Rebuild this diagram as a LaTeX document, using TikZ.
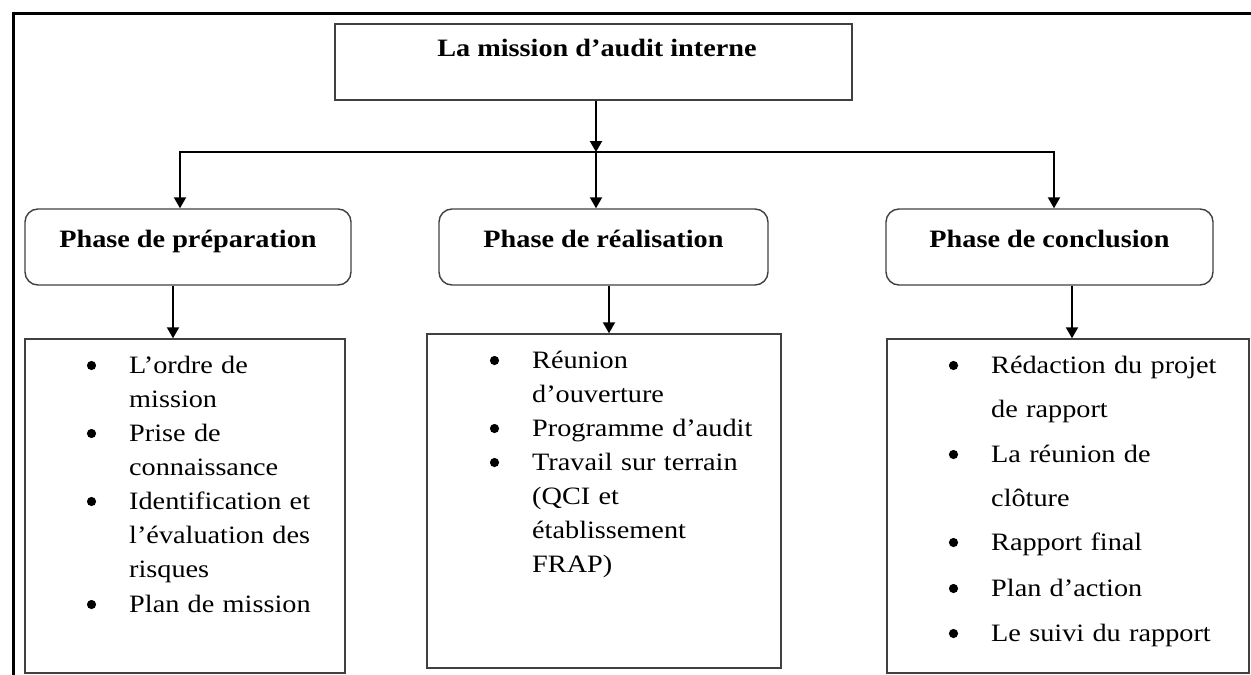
\documentclass[tikz,border=0pt]{standalone}
\usepackage{fontspec}
\setmainfont{Liberation Serif}[FakeStretch=1.13]
\usetikzlibrary{arrows.meta}

\definecolor{boxline}{gray}{0.25}

\tikzset{
  arr/.style={line width=2pt, -{Triangle[width=12pt,length=11pt]}},
  plainbox/.style={draw=boxline, line width=1.4pt, rectangle, inner sep=0pt},
  titlebox/.style={plainbox, font=\fontsize{25}{30}\selectfont\bfseries},
  phasebox/.style={titlebox, rounded corners=13pt, minimum width=326pt,
    text height=38pt, text depth=38pt},
  listbox/.style={plainbox, minimum height=334pt},
  item/.style={anchor=base west, inner sep=0pt, text width=240pt, align=left,
    font=\fontsize{25}{34}\selectfont},
  itemwide/.style={item, font=\fontsize{25}{44.7}\selectfont},
}

\begin{document}
\begin{tikzpicture}[x=1pt,y=-1pt]
\useasboundingbox (0,0) rectangle (1251,675);

% frame along the top and the left
\draw[line width=3pt] (13.5,675) -- (13.5,13.5) -- (1251,13.5);

% main box (title set near its top edge)
\node[titlebox, minimum width=517pt, text height=32pt, text depth=44pt]
  (top) at (593.5,62) {\hspace{7pt}La mission d’audit interne};

% the three phases
\node[phasebox] (p1) at (188,247) {Phase de préparation};
\node[phasebox, minimum width=329pt] (p2) at (603.5,247) {Phase de réalisation};
\node[phasebox, minimum width=327pt] (p3) at (1049.5,247) {Phase de conclusion};

% contents of each phase
\node[listbox, minimum width=320pt] (c1) at (185,506) {};
\node[listbox, minimum width=354pt] (c2) at (604,501) {};
\node[listbox, minimum width=362pt] (c3) at (1068,506) {};

\node[item] (c1a) at (129,373) {L’ordre de\\mission};
\node[item] (c1b) at (129,441) {Prise de\\connaissance};
\node[item] (c1c) at (129,509) {Identification et\\l’évaluation des\\risques};
\node[item] (c1d) at (129,612) {Plan de mission};

\node[item] (c2a) at (532,368) {Réunion\\d’ouverture};
\node[item] (c2b) at (532,436) {Programme d’audit};
\node[item] (c2c) at (532,470) {Travail sur terrain\\(QCI et\\établissement\\FRAP)};

\node[itemwide] (c3a) at (991,373) {Rédaction du projet\\de rapport};
\node[itemwide] (c3b) at (991,462) {La réunion de\\clôture};
\node[itemwide] (c3c) at (991,550) {Rapport final};
\node[itemwide] (c3d) at (991,596) {Plan d’action};
\node[itemwide] (c3e) at (991,641) {Le suivi du rapport};

% list bullets, left of the first line of each item
\foreach \n in {c1a,c1b,c1c,c1d,c2a,c2b,c2c,c3a,c3b,c3c,c3d,c3e}
  \fill ([shift={(-37.5pt,7.5pt)}]\n.base west) circle (4.6pt);

% connectors
\coordinate (hub) at (596,152);
\draw[arr] ([xshift=2.5pt]top.south) -- (hub);
\draw[arr] (hub) -| ([xshift=-8pt]p1.north);
\draw[arr] (hub) -- (hub |- p2.north);
\draw[arr] (hub) -| ([xshift=4.5pt]p3.north);

\draw[arr] ([xshift=-15pt]p1.south) -- ([xshift=-15pt]p1.south |- c1.north);
\draw[arr] ([xshift=5.5pt]p2.south) -- ([xshift=5.5pt]p2.south |- c2.north);
\draw[arr] ([xshift=22.5pt]p3.south) -- ([xshift=22.5pt]p3.south |- c3.north);
\end{tikzpicture}
\end{document}
